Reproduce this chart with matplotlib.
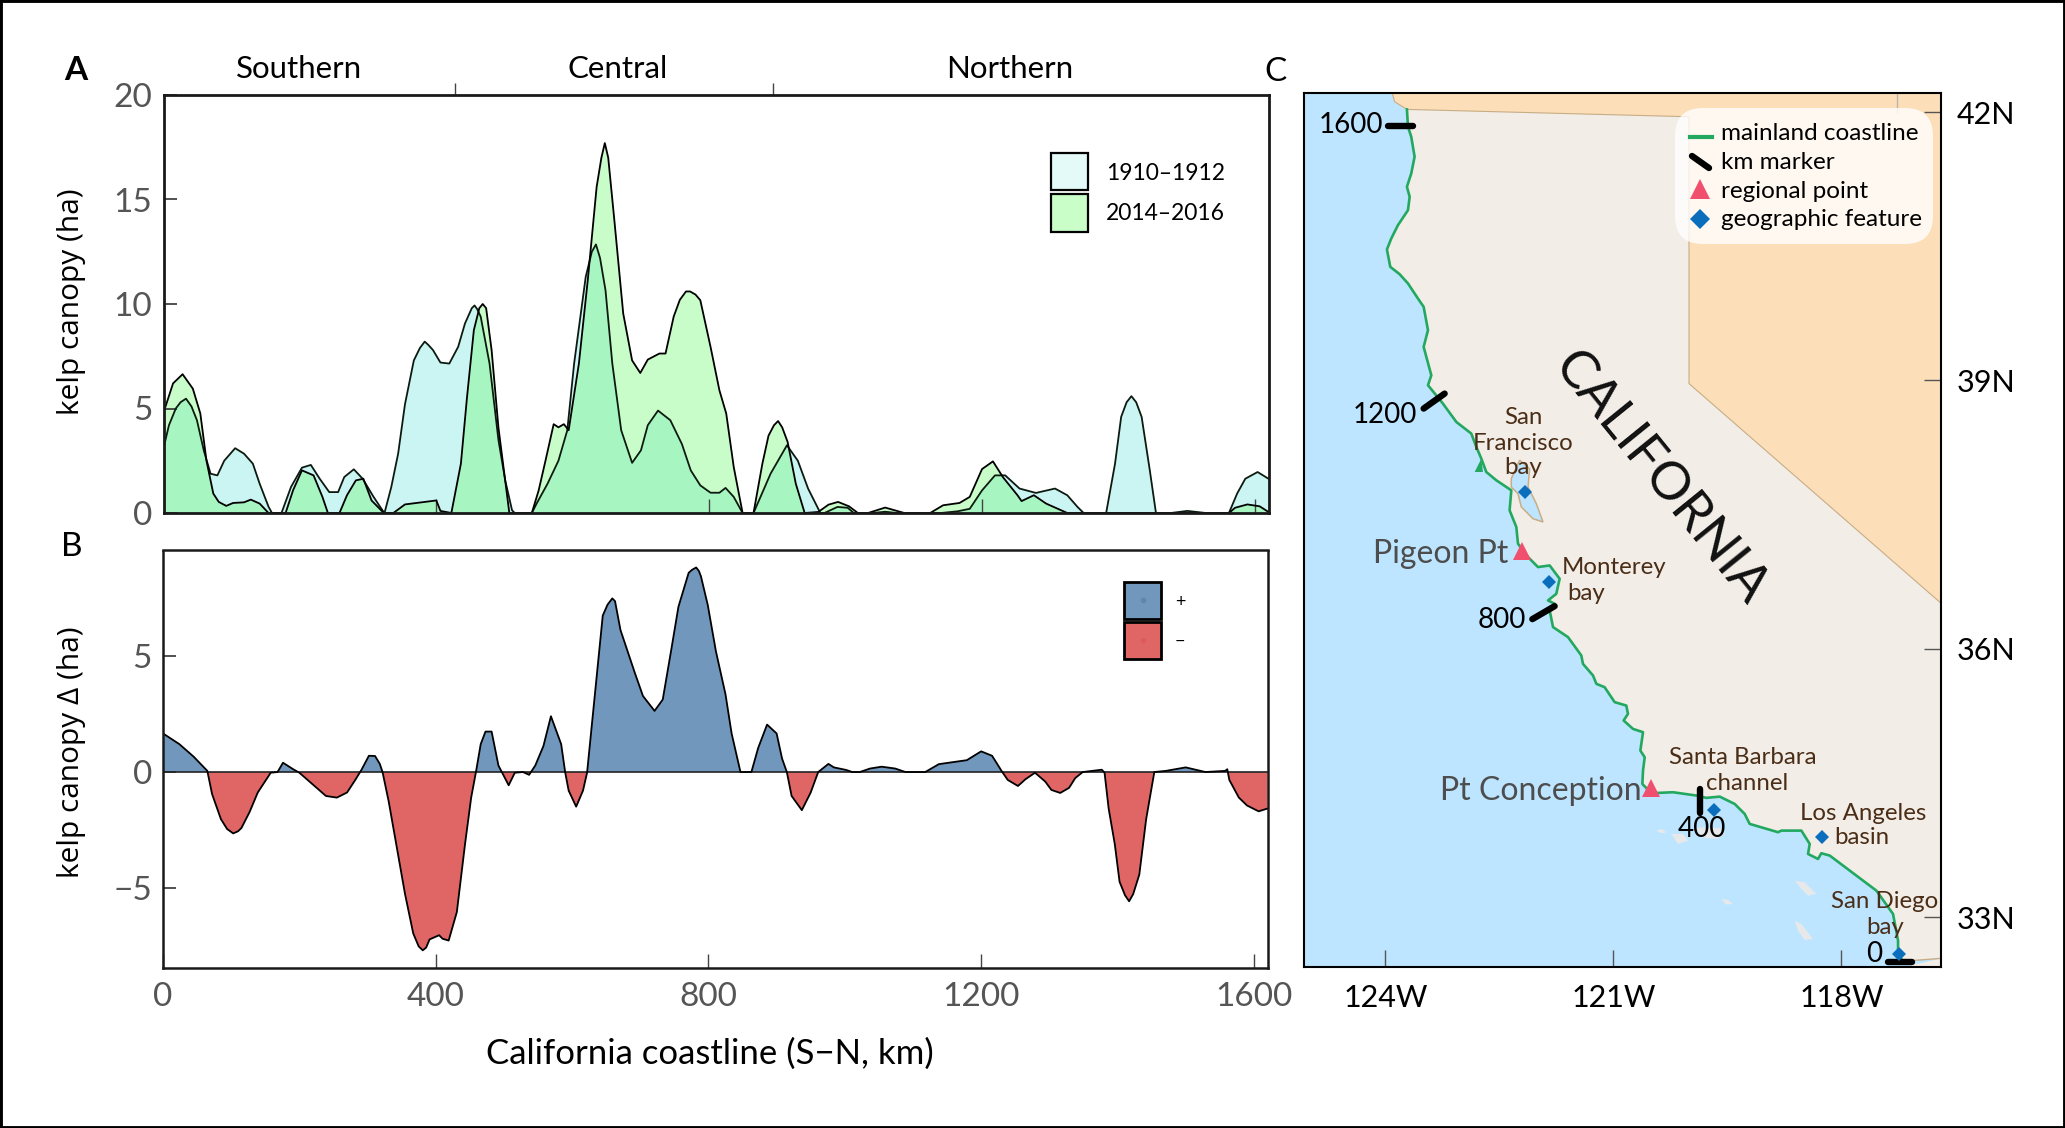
import matplotlib
matplotlib.use("Agg")
import matplotlib.pyplot as plt
from matplotlib.patches import Rectangle, FancyBboxPatch
from matplotlib.lines import Line2D
from matplotlib.transforms import IdentityTransform

plt.rcParams['font.family'] = ['Lato', 'DejaVu Sans']

W, H = 2065, 1128

# kelp canopy, 1910-1912 (km, ha)
km_hist = [0, 8, 18, 25, 33, 41, 49, 59, 69, 79, 89, 105, 118, 131, 141, 154, 159, 173, 187, 203, 216, 229, 243, 256, 265, 279,
           292, 308, 321, 324, 334, 344, 354, 367, 376, 383, 388, 395, 406, 419, 432, 442, 452, 456, 460, 465, 478, 491, 501, 511, 515,
           540, 547, 563, 579, 592, 602, 619, 628, 634, 640, 648, 658, 671, 687, 700, 710, 725, 743, 760, 773, 787, 802, 815, 824,
           836, 849, 865, 890, 914, 930, 945, 963, 969, 988, 1003, 1012, 1040, 1058, 1075, 1140, 1164, 1182, 1200,
           1219, 1234, 1255, 1279, 1307, 1325, 1340, 1349, 1358, 1382, 1395, 1404, 1412, 1419, 1426, 1434, 1446, 1455, 1477, 1501,
           1528, 1562, 1574, 1586, 1604, 1620]
ha_hist = [3.1, 4.2, 5.0, 5.3, 5.47, 5.1, 4.44, 3.0, 1.88, 1.8, 2.5, 3.1, 2.84, 2.36, 1.4, 0.3, 0, 0, 1.25, 2.17, 2.3, 1.64, 1.0, 1.0,
           1.72, 2.09, 1.64, 0.77, 0.13, 0, 1.25, 2.84, 5.2, 7.3, 7.9, 8.2, 8.05, 7.8, 7.2, 7.15, 7.95, 9.07, 9.8, 9.93, 9.75, 9.4, 7.15, 3.5,
           1.56, 0.13, 0, 0, 0.45, 1.4, 2.5, 3.96, 7.15, 11.3, 12.5, 12.85, 12.2, 10.66, 7.15, 3.96, 2.4, 3.0, 4.2, 4.9, 4.44, 3.3, 2.04,
           1.32, 0.97, 0.97, 1.2, 0.77, 0, 0, 1.88, 3.24, 2.5, 1.17, 0, 0, 0.29, 0.25, 0, 0, 0.06, 0, 0, 0.08, 0.2, 1.08,
           1.8, 1.8, 1.17, 0.96, 1.17, 0.85, 0.29, 0, 0, 0, 2.36, 4.6, 5.3, 5.59, 5.3, 4.6, 2.04, 0, 0, 0.1,
           0, 0, 0.93, 1.64, 1.96, 1.64]

# kelp canopy, 2014-2016
km_new = [0, 2, 14, 28, 43, 54, 63, 73, 81, 92, 102, 118, 128, 141, 154, 179, 190, 203, 220, 233, 241, 258, 269, 282, 293,
          305, 323, 337, 354, 400, 406, 422, 436, 445, 455, 463, 468, 473, 481, 491, 507, 540, 550, 560, 572, 579, 587, 594, 609,
          622, 635, 642, 647, 652, 661, 674, 687, 699, 710, 727, 736, 748, 757, 766, 772, 780, 787, 802, 815, 825, 836, 849, 865, 878, 887, 895, 901,
          907, 915, 927, 940, 960, 975, 989, 1005, 1018, 1033, 1058, 1086, 1124, 1143, 1167, 1182, 1200, 1216, 1231, 1252,
          1258, 1276, 1294, 1325, 1562, 1571, 1589, 1607, 1620]
ha_new = [4.9, 5.0, 6.2, 6.64, 5.95, 4.76, 2.5, 0.93, 0.53, 0.34, 0.48, 0.51, 0.64, 0.45, 0, 0, 1.09, 2.04, 1.8, 0.77, 0, 0,
          0.85, 1.56, 1.64, 0.6, 0, 0, 0.41, 0.6, 0.1, 0, 2.36, 5.55, 8.75, 9.8, 10.0, 9.8, 7.8, 4.1, 0, 0, 1.08, 2.5, 4.25, 4.1, 4.25,
          3.96, 7.15, 11.14, 15.6, 17.0, 17.7, 17.0, 14.0, 9.54, 7.3, 6.7, 7.34, 7.63, 7.63, 9.4, 10.2, 10.6, 10.6, 10.45, 10.18, 7.95, 5.87, 4.76, 2.2, 0,
          0, 2.36, 3.7, 4.2, 4.4, 4.1, 3.4, 1.4, 0, 0.05, 0.4, 0.53, 0.32, 0, 0, 0.26, 0, 0, 0.37, 0.48, 0.77, 2.1, 2.47, 1.7, 0.85,
          0.57, 0.85, 0.45, 0, 0, 0.25, 0.41, 0.32, 0.05]

# canopy change
km_delta = [0, 24, 45, 65, 72, 85, 94, 103, 110, 115, 127, 139, 158, 168, 176, 191, 200, 218, 239, 255, 270, 282, 291, 302, 311,
            318, 322, 331, 343, 355, 367, 375, 381, 386, 391, 405, 410, 419, 431, 443, 452, 459, 466, 473, 482, 492, 507, 516,
            528, 537, 546, 558, 569, 584, 590, 595, 606, 616, 622, 634, 645, 652, 659, 663, 671, 692, 704, 721, 733, 746, 756, 771,
            776, 782, 786, 789, 799, 811, 825, 834, 847, 863, 873, 886, 900, 908, 915, 922, 937, 950, 961, 976, 984, 1002, 1011,
            1022, 1037, 1054, 1074, 1089, 1118, 1138, 1179, 1200, 1216, 1231, 1239, 1254, 1265, 1279, 1294, 1303, 1316,
            1329, 1338, 1349, 1377, 1381, 1387, 1396, 1403, 1411, 1417, 1423, 1432, 1442, 1454, 1471, 1500, 1529, 1558, 1561, 1564,
            1578, 1590, 1607, 1620]
ha_delta = [1.66, 1.2, 0.66, 0.05, -0.95, -2.03, -2.45, -2.64, -2.55, -2.41, -1.72, -0.88, -0.03, 0, 0.4, 0.12, -0.03, -0.49, -1.03, -1.1,
            -0.88, -0.34, 0.09, 0.7, 0.69, 0.35, 0, -1.26, -3.26, -5.25, -6.94, -7.5, -7.67, -7.55, -7.2, -7.02, -7.17, -7.25, -6.02,
            -3.1, -1.1, 0, 1.2, 1.74, 1.74, 0.28, -0.57, -0.03, 0, -0.12, 0.28, 1.12, 2.4, 1.2, -0.03, -0.8, -1.49, -0.8,
            -0.03, 3.5, 6.73, 7.2, 7.47, 7.35, 6.11, 4.27, 3.27, 2.63, 3.12, 5.35, 7.11, 8.57, 8.7, 8.8, 8.65, 8.42, 7.19, 5.19, 3.35, 1.66, 0, 0,
            1.04, 2.04, 1.66, 0.58, 0, -1.03, -1.64, -0.88, 0, 0.35, 0.2, 0.09, 0, 0, 0.15, 0.23, 0.15, 0, 0, 0.34, 0.51,
            0.89, 0.7, 0, -0.34, -0.6, -0.31, -0.03, -0.41, -0.77, -0.9, -0.68, -0.26, 0, 0.1, -0.03, -1.57, -3.1, -4.72,
            -5.3, -5.56, -5.25, -4.41, -2.03, 0, 0.05, 0.2, 0, 0.05, 0.12, -0.34, -1.1, -1.44, -1.69, -1.57]

# mainland coastline, N to S
coast_lon = [-123.716, -123.702, -123.659, -123.615, -123.659, -123.716, -123.680, -123.702, -123.834, -123.922, -123.979,
             -123.935, -123.812, -123.702, -123.571, -123.496, -123.439, -123.496, -123.395, -123.439, -123.242, -123.066,
             -122.869, -122.803, -122.737, -122.672, -122.540, -122.343, -122.365, -122.277, -122.255, -122.123, -121.992,
             -121.838, -121.707, -121.751, -121.860, -121.773, -121.838, -121.794, -121.597, -121.422, -121.400, -121.268,
             -121.224, -121.115, -120.983, -120.830, -120.808, -120.865, -120.742, -120.610, -120.645, -120.588, -120.610,
             -120.619, -120.501, -120.216, -119.908, -119.777, -119.601, -119.404, -119.273, -119.207, -118.834, -118.790,
             -118.527, -118.417, -118.439, -118.308, -118.264, -118.154, -117.891, -117.540, -117.321, -117.255, -117.255,
             -117.189]
coast_lat = [42.030, 41.836, 41.724, 41.501, 41.314, 41.165, 41.053, 40.904, 40.736, 40.587, 40.464, 40.270, 40.188, 40.084,
             39.916, 39.823, 39.562, 39.375, 39.058, 38.947, 38.741, 38.536, 38.406, 38.257, 38.126, 37.977, 37.884, 37.772,
             37.548, 37.362, 37.175, 37.026, 36.914, 36.932, 36.783, 36.615, 36.541, 36.504, 36.429, 36.243, 36.131, 35.926,
             35.832, 35.702, 35.609, 35.571, 35.404, 35.366, 35.273, 35.199, 35.105, 35.068, 34.863, 34.788, 34.639, 34.490,
             34.386, 34.397, 34.360, 34.334, 34.348, 34.266, 34.155, 34.043, 33.950, 33.968, 33.968, 33.819, 33.707, 33.651,
             33.715, 33.689, 33.521, 33.297, 33.036, 32.738, 32.589, 32.507]

# inland borders of california (E side, from Mexico up to Oregon)
border_lon = [-116.69, -116.69, -120.005, -120.005]
border_lat = [32.54, 36.51, 38.965, 41.948]
neighbour_lon = [-123.909, -123.878, -123.716, -120.005, -120.005, -116.69, -116.69]
neighbour_lat = [42.21, 42.116, 42.03, 41.948, 38.965, 36.51, 42.21]

bay_lon = [-122.343, -122.233, -122.102, -122.123, -122.014, -121.926, -122.058, -122.211, -122.255, -122.343]
bay_lat = [37.902, 38.108, 38.014, 37.809, 37.623, 37.418, 37.455, 37.586, 37.735, 37.809]

islands = [
    ([-120.435, -120.369, -120.303, -120.369], [33.968, 33.987, 33.949, 33.938]),
    ([-120.237, -120.084, -120.018, -120.150], [33.931, 33.931, 33.856, 33.819]),
    ([-119.908, -119.601, -119.536, -119.645, -119.865], [34.005, 33.998, 33.931, 33.875, 33.894]),
    ([-118.615, -118.483, -118.330, -118.439, -118.527], [33.409, 33.390, 33.260, 33.241, 33.316]),
    ([-119.580, -119.492, -119.426, -119.514], [33.204, 33.193, 33.148, 33.140]),
    ([-118.615, -118.527, -118.373, -118.483, -118.571], [32.961, 32.924, 32.756, 32.745, 32.850]),
]

marker_km = [
    ([-123.97, -123.641], [41.843, 41.843]),
    ([-123.496, -123.220], [38.686, 38.853]),
    ([-122.066, -121.773], [36.332, 36.477]),
    ([-119.856, -119.856], [34.434, 34.162]),
    ([-117.391, -117.075], [32.503, 32.503]),
]
regional_lon = [-122.198, -120.501]
regional_lat = [37.093, 34.445]
feature_lon = [-122.159, -121.851, -119.676, -118.259, -117.245]
feature_lat = [37.753, 36.742, 34.199, 33.894, 32.59]

GREEN = '#23a860'
GREY = '#555555'
TAN = '#c9ad84'
BROWN = '#4a2d17'
MAP_GREY = '#4d4d4d'


def fx(px):
    return px / W


def fy(py):
    return 1 - py / H


def add_axes(left, top, right, bottom):
    return fig.add_axes([fx(left), fy(bottom), (right - left) / W, (bottom - top) / H])


def label(px, py, s, size, color='black', ha='center', **kw):
    fig.text(fx(px), fy(py), s, fontsize=size, color=color, ha=ha, va='center', **kw)


def box(left, top, right, bottom, color, lw=1.6):
    fig.add_artist(Rectangle((fx(left), fy(bottom)), (right - left) / W, (bottom - top) / H,
                             facecolor=color, edgecolor='black', lw=lw, transform=fig.transFigure))


fig = plt.figure(figsize=(W / 100, H / 100), dpi=100)
fig.add_artist(Rectangle((0, 0), 1, 1, fill=False, edgecolor='black', lw=3.5, transform=fig.transFigure))

# panel A
ax = add_axes(163.5, 95, 1268.5, 513)
ax.fill_between(km_hist, ha_hist, 0, color='#cbf5f3', lw=0)
ax.fill_between(km_new, ha_new, 0, color='#64f964', alpha=0.35, lw=0)
ax.plot(km_hist, ha_hist, color='#0c1a10', lw=1.3)
ax.plot(km_new, ha_new, color='black', lw=1.3)
ax.set_xlim(0, 1620)
ax.set_ylim(0, 20)
ax.set_yticks([0, 5, 10, 15, 20], ['0', '5', '10', '15', '20'])
ax.set_xticks([400, 800, 1200, 1600], [])
ax.tick_params(axis='x', direction='in', length=10, width=1, color='#444444')
ax.tick_params(axis='y', direction='in', length=9, width=1.2, color='#333333', labelsize=24,
               labelcolor=GREY, pad=8)
for s in ax.spines.values():
    s.set_linewidth(2)
    s.set_color('#1a1a1a')
top = ax.secondary_xaxis('top')
top.set_xticks([428, 893], [])
top.tick_params(direction='out', length=9, width=1, color='#444444')
top.spines['top'].set_visible(False)

# panel B
bx = add_axes(163, 550.5, 1267.5, 968)
bx.fill_between(km_delta, ha_delta, 0, where=[v >= 0 for v in ha_delta], interpolate=True, color='#7297bc', lw=0)
bx.fill_between(km_delta, ha_delta, 0, where=[v <= 0 for v in ha_delta], interpolate=True, color='#e06666', lw=0)
bx.axhline(0, color='#222222', lw=1.2)
bx.plot(km_delta, ha_delta, color='black', lw=1.3)
bx.set_xlim(0, 1620)
bx.set_ylim(-8.43, 9.53)
bx.set_yticks([-5, 0, 5], ['\u22125', '0', '5'])
bx.set_xticks([0, 400, 800, 1200, 1600], ['0', '400', '800', '1200', '1600'])
bx.tick_params(axis='x', direction='in', length=10, width=1, color='#444444', labelsize=24, labelcolor=GREY, pad=10)
bx.tick_params(axis='y', direction='in', length=9, width=1.2, color='#333333', labelsize=24, labelcolor=GREY, pad=8)
for s in bx.spines.values():
    s.set_linewidth(1.8)
    s.set_color('#1a1a1a')

# panel C
mx = add_axes(1304, 93.3, 1941, 967.3)
mx.set_facecolor('#bde5ff')
mx.fill(coast_lon + border_lon, coast_lat + border_lat, color='#f2ede6', lw=0, zorder=1)
mx.fill([-116.69, -117.189, -116.69], [32.54, 32.44, 32.44], color='#f2ede6', lw=0, zorder=1)
mx.fill(neighbour_lon, neighbour_lat, facecolor='#fcdfb9', edgecolor=TAN, lw=0.8, zorder=1.5)
mx.plot([-117.15, -116.69], [32.51, 32.54], color=TAN, lw=1, zorder=2)
mx.fill(bay_lon, bay_lat, facecolor='#bde5ff', edgecolor=TAN, lw=1.1, zorder=2)
for lon, lat in islands:
    mx.fill(lon, lat, color='#e6e8ea', lw=0, zorder=2)
mx.plot([-117.27, -117.27], [42.21, 42.0], color='#bdb5a8', lw=1, zorder=2)
mx.plot(coast_lon, coast_lat, color=GREEN, lw=1.9, zorder=3)
mx.fill([-122.737, -122.825, -122.716], [38.126, 37.977, 37.977], color=GREEN, lw=0, zorder=3)
for lon, lat in marker_km:
    mx.plot(lon, lat, color='black', lw=4.6, solid_capstyle='round', zorder=4)
mx.plot(regional_lon, regional_lat, '^', color='#f0506e', ms=13, mew=0, zorder=5)
mx.plot(feature_lon, feature_lat, 'D', color='#0a6ebd', ms=7.5, mew=0, zorder=5)
mx.set_xlim(-125.07, -116.69)
mx.set_ylim(32.44, 42.21)
mx.set_xticks([-124, -121, -118], ['124W', '121W', '118W'])
mx.yaxis.tick_right()
mx.set_yticks([33, 36, 39, 42], ['33N', '36N', '39N', '42N'])
mx.tick_params(axis='both', direction='in', length=12, width=1, color='#555555', labelsize=22)
mx.tick_params(axis='x', pad=12)
mx.tick_params(axis='y', pad=11)
for s in mx.spines.values():
    s.set_linewidth(1.5)

# panel letters and region names
label(76, 70, 'A', 24, weight='bold')
label(72, 547, 'B', 24)
label(1276, 72, 'C', 24)
label(299, 69, 'Southern', 22.5)
label(618, 69, 'Central', 22.5)
label(1010, 69, 'Northern', 22.5)

label(71, 302, 'kelp canopy (ha)', 21.5, rotation=90, family=['Open Sans', 'DejaVu Sans'])
label(72, 752, 'kelp canopy \u0394 (ha)', 21.5, rotation=90, family=['Open Sans', 'DejaVu Sans'])
label(710, 1054, 'California coastline (S\u2212N, km)', 25)

# legend A
box(1050.5, 152.7, 1087.8, 190, '#e3faf8')
box(1050.5, 194, 1087.8, 231.7, '#c9fec9')
label(1106, 173, '1910\u20131912', 16.5, ha='left')
label(1106, 214, '2014\u20132016', 16.5, ha='left')

# legend B
box(1124, 582, 1161, 618.6, '#7297bc', lw=2)
box(1124, 622, 1161, 659, '#e06666', lw=2)
fig.add_artist(Line2D([fx(1142.5)], [fy(600)], marker='o', color='#5f86b0', ms=4, mew=0, transform=fig.transFigure))
fig.add_artist(Line2D([fx(1142.5)], [fy(640)], marker='o', color='#dc5a5a', ms=4, mew=0, transform=fig.transFigure))
label(1180, 602, '+', 13)
label(1180, 642, '\u2212', 13)

# map legend
fig.add_artist(FancyBboxPatch((1693, H - 226), 222, 100, boxstyle='round,pad=18,rounding_size=28',
                              facecolor='white', edgecolor='none', alpha=0.8, transform=IdentityTransform()))
fig.add_artist(Line2D([fx(1690), fx(1712)], [fy(137), fy(137)], color=GREEN, lw=3, transform=fig.transFigure))
fig.add_artist(Line2D([fx(1692), fx(1709)], [fy(156), fy(168)], color='black', lw=4.6, solid_capstyle='round',
                      transform=fig.transFigure))
fig.add_artist(Line2D([fx(1700)], [fy(189)], marker='^', color='#f0506e', ms=15, mew=0, transform=fig.transFigure))
fig.add_artist(Line2D([fx(1700)], [fy(219)], marker='D', color='#0a6ebd', ms=10.5, mew=0, transform=fig.transFigure))
label(1721, 134, 'mainland coastline', 17.5, ha='left')
label(1721, 163, 'km marker', 17.5, ha='left')
label(1721, 191, 'regional point', 17.5, ha='left')
label(1721, 219, 'geographic feature', 17.5, ha='left')

# map labels
label(1383, 125, '1600', 20, ha='right')
label(1417, 415, '1200', 20, ha='right')
label(1526, 620, '800', 20, ha='right')
label(1702, 829, '400', 20)
label(1882, 954, '0', 20, ha='right')
label(1373, 554, 'Pigeon Pt', 23, color=MAP_GREY, ha='left')
label(1440, 791, 'Pt Conception', 23, color=MAP_GREY, ha='left')
label(1523, 417, 'San', 17.3, color=BROWN)
label(1523, 443, 'Francisco', 17.3, color=BROWN)
label(1523, 468, 'bay', 17.3, color=BROWN)
label(1614, 567, 'Monterey', 17.3, color=BROWN)
label(1586, 593, 'bay', 17.3, color=BROWN)
label(1743, 757, 'Santa Barbara', 17.3, color=BROWN)
label(1747, 783, 'channel', 17.3, color=BROWN)
label(1863, 813, 'Los Angeles', 17.3, color=BROWN)
label(1862, 837, 'basin', 17.3, color=BROWN)
label(1885, 902, 'San Diego', 17.3, color=BROWN)
label(1885, 927, 'bay', 17.3, color=BROWN)
fig.text(fx(1660), fy(478), 'CALIFORNIA', fontsize=38, rotation=-51, ha='center', va='center',
         rotation_mode='anchor', color='#111111')

fig.savefig('out.png', dpi=100)
